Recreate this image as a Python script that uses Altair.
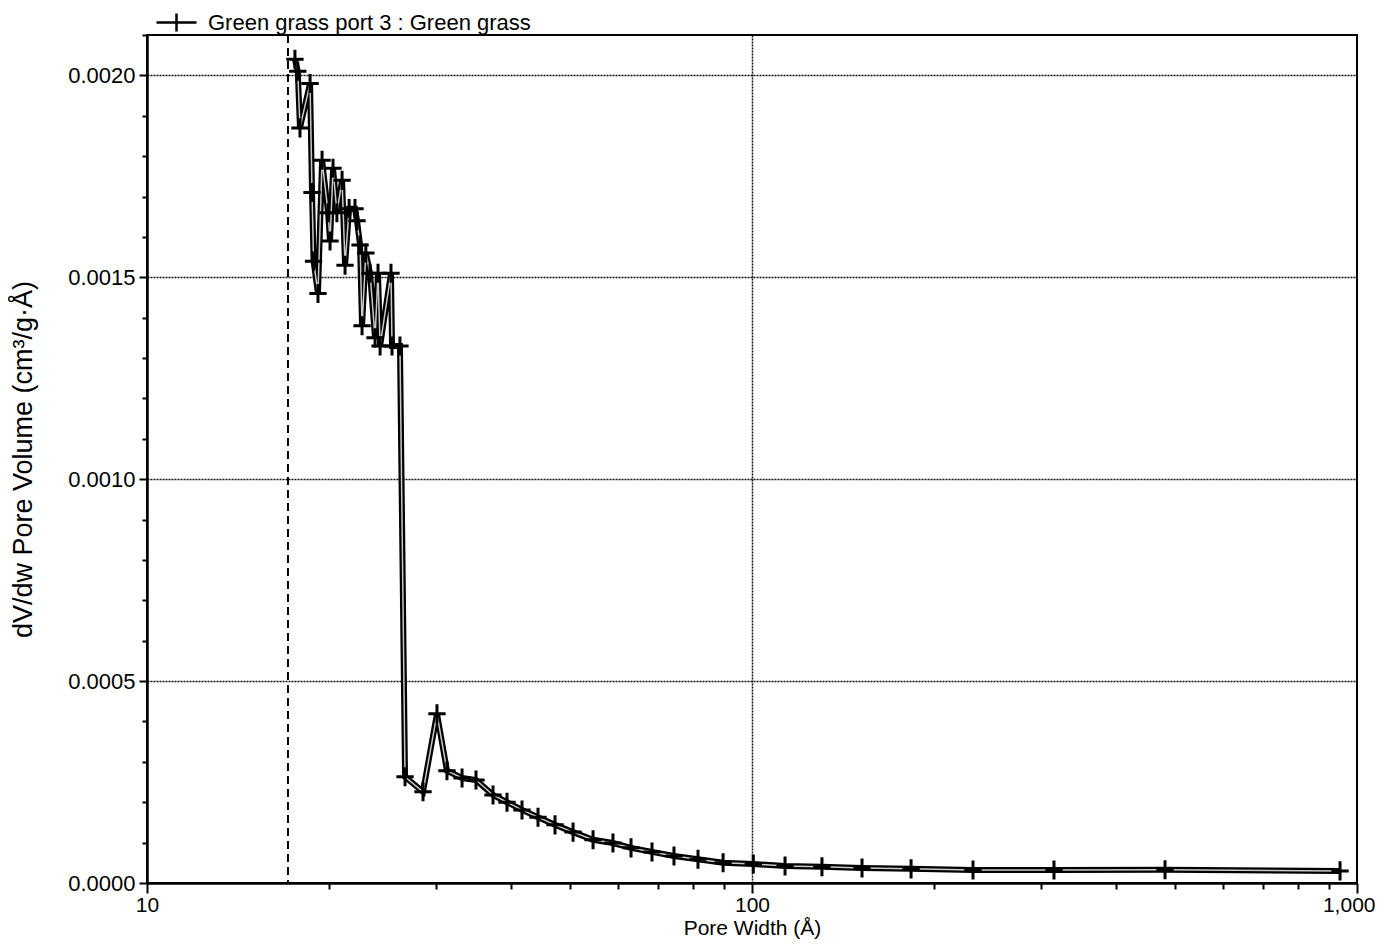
import altair as alt
import pandas as pd

# ---- data ----
pore_width = [17.56, 17.75, 17.90, 18.60, 18.74, 18.85, 19.17, 19.47, 19.92, 20.07,
              20.30, 20.60, 21.01, 21.25, 21.58, 22.07, 22.24, 22.50, 22.67, 23.00,
              23.37, 23.82, 24.09, 24.28, 25.31, 25.41, 26.19, 26.70, 28.59, 30.15,
              31.32, 33.17, 34.98, 37.32, 39.36, 41.67, 44.29, 47.25, 50.61, 54.61,
              58.91, 63.10, 68.35, 74.31, 81.42, 89.58, 100.5, 113.4, 130.5, 152.0,
              183.2, 231.9, 315.6, 481.6, 937.5]
dvdw = [0.00204, 0.00201, 0.00187, 0.00198, 0.00171, 0.00154, 0.00146, 0.00179, 0.00166, 0.00159,
        0.00177, 0.00166, 0.00174, 0.00153, 0.00167, 0.00167, 0.00164, 0.00158, 0.00138, 0.00156,
        0.00151, 0.00135, 0.00151, 0.00133, 0.00151, 0.00133, 0.00133, 0.000263, 0.000226, 0.000419,
        0.000278, 0.000260, 0.000255, 0.000218, 0.000200, 0.000181, 0.000163, 0.000144, 0.000126, 0.000107,
        0.000099, 0.000087, 0.000077, 0.000067, 0.000059, 0.000050, 0.000047, 0.000042, 0.000040, 0.000037,
        0.000035, 0.000032, 0.000032, 0.000033, 0.000030]
cutoff_width = [17.1]
series_name = "Green grass port 3 : Green grass"

x_major = [10, 100, 1000]
x_minor = [20, 30, 40, 50, 60, 70, 80, 90, 200, 300, 400, 500, 600, 700, 800, 900]
x_ticks = sorted(x_major + x_minor)
y_ticks = [round(i * 0.0001, 4) for i in range(22)]

df = pd.DataFrame({"w": pore_width, "v": dvdw, "i": list(range(len(pore_width))),
                   "series": [series_name] * len(pore_width)})
cut = pd.DataFrame({"w": cutoff_width})

FONT = "Liberation Sans"

xscale = alt.Scale(type="log", domain=[10, 1000], nice=False)
yscale = alt.Scale(domain=[0, 0.0021], nice=False, zero=True)

major_x = "indexof([10,100,1000], datum.value) >= 0"
major_y = "round(datum.value * 10000) % 5 == 0"

xaxis = alt.Axis(
    values=x_ticks,
    labelExpr=f"{major_x} ? format(datum.value, ',') : ''",
    labelAlign={"condition": {"test": "datum.value == 1000", "value": "right"}, "value": "center"},
    labelOffset={"condition": {"test": "datum.value == 1000", "value": 18}, "value": 0},
    tickSize={"condition": {"test": major_x, "value": 10}, "value": 6},
    grid=True,
    gridOpacity={"condition": {"test": "datum.value == 100", "value": 1}, "value": 0},
    gridColor="#111", gridDash=[2, 1], gridWidth=1.5,
    title="Pore Width (Å)", titleFont=FONT, titleFontSize=21, titleFontWeight="normal",
    titleColor="black", titlePadding=2,
    labelFont=FONT, labelFontSize=21, labelColor="black", labelPadding=1,
    labelOverlap=False, labelFlush=False,
    domainColor="black", domainWidth=2.5, tickColor="black", tickWidth=2,
)
yaxis = alt.Axis(
    values=y_ticks,
    labelExpr=f"{major_y} ? format(datum.value, '.4f') : ''",
    tickSize={"condition": {"test": major_y, "value": 8}, "value": 5},
    grid=True,
    gridOpacity={"condition": {"test": f"{major_y} && datum.value > 0", "value": 1}, "value": 0},
    gridColor="#111", gridDash=[2, 1], gridWidth=1.5,
    title="dV/dw Pore Volume (cm³/g·Å)", titleFont=FONT, titleFontSize=27,
    titleFontWeight="normal", titleColor="black", titlePadding=30,
    labelFont=FONT, labelFontSize=22, labelColor="black", labelPadding=4,
    labelOverlap=False,
    domainColor="black", domainWidth=2.5, tickColor="black", tickWidth=2,
)

X = alt.X("w:Q", scale=xscale, axis=xaxis)
Y = alt.Y("v:Q", scale=yscale, axis=yaxis)

cutline = alt.Chart(cut).mark_rule(strokeDash=[8, 5], strokeWidth=2, color="black").encode(
    x=alt.X("w:Q", scale=xscale)
)

line_outer = alt.Chart(df).mark_line(strokeWidth=6).encode(
    x=X, y=Y, order="i:Q",
    color=alt.Color("series:N", scale=alt.Scale(range=["black"]),
                    legend=alt.Legend(orient="none", legendX=8, legendY=-34, title=None,
                                      symbolType="M-1,0H1M0,-0.45V0.45", symbolSize=1600,
                                      symbolStrokeWidth=2.5, symbolStrokeColor="black",
                                      labelFont=FONT, labelFontSize=22, labelColor="black",
                                      labelOffset=10, labelLimit=0, padding=0)),
)
line_inner = alt.Chart(df).mark_line(strokeWidth=1.5, color="#c8c8c8").encode(
    x="w:Q", y="v:Q", order="i:Q"
)
points = alt.Chart(df).mark_point(shape="M-1,0H1M0,-1.1V1.1", size=300, filled=False,
                                  color="black", strokeWidth=3, opacity=1).encode(
    x="w:Q", y="v:Q"
)

chart = alt.layer(cutline, line_outer, line_inner, points).properties(
    width=1210, height=848,
    autosize=alt.AutoSizeParams(type="none"),
    padding={"left": 139, "top": 27, "right": 18, "bottom": 56},
).configure_view(stroke="black", strokeWidth=2)

chart.save("out.html", embed_options={"renderer": "svg", "actions": False})
